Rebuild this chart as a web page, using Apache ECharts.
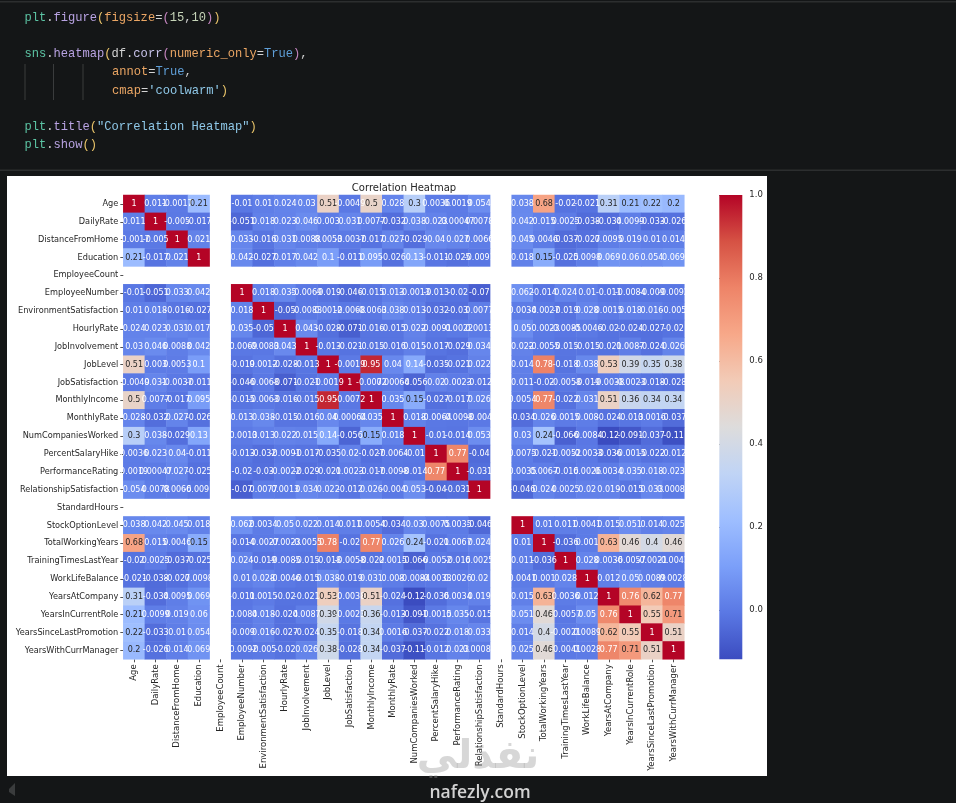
<!DOCTYPE html>
<html><head><meta charset="utf-8">
<style>html,body{margin:0;padding:0;background:#141617}#c{width:956px;height:803px}</style>
<script src="https://cdn.jsdelivr.net/npm/echarts@6/dist/echarts.min.js"></script>
</head><body><div id="c"></div>
<script>
const labels = ['Age','DailyRate','DistanceFromHome','Education','EmployeeCount','EmployeeNumber','EnvironmentSatisfaction','HourlyRate','JobInvolvement','JobLevel','JobSatisfaction','MonthlyIncome','MonthlyRate','NumCompaniesWorked','PercentSalaryHike','PerformanceRating','RelationshipSatisfaction','StandardHours','StockOptionLevel','TotalWorkingYears','TrainingTimesLastYear','WorkLifeBalance','YearsAtCompany','YearsInCurrentRole','YearsSinceLastPromotion','YearsWithCurrManager'];
const _ = null;
const rowAge = [1,0.011,-0.0017,0.21,_,-0.01,0.01,0.024,0.03,0.51,-0.0049,0.5,0.028,0.3,0.0036,0.0019,0.054,_,0.038,0.68,-0.02,-0.021,0.31,0.21,0.22,0.2];
const rowDailyRate = [0.011,1,-0.005,-0.017,_,-0.051,0.018,0.023,0.046,0.003,0.031,0.0077,-0.032,0.038,0.023,0.00047,0.0078,_,0.042,0.015,0.0025,-0.038,-0.034,0.0099,-0.033,-0.026];
const rowDistance = [-0.0017,-0.005,1,0.021,_,0.033,-0.016,0.031,0.0088,0.0053,-0.0037,-0.017,0.027,-0.029,0.04,0.027,0.0066,_,0.045,0.0046,-0.037,-0.027,0.0095,0.019,0.01,0.014];
const rowEducation = [0.21,-0.017,0.021,1,_,0.042,-0.027,0.017,0.042,0.1,-0.011,0.095,-0.026,0.13,-0.011,-0.025,-0.0091,_,0.018,0.15,-0.025,0.0098,0.069,0.06,0.054,0.069];
const rowEmpCount = [_,_,_,_,_,_,_,_,_,_,_,_,_,_,_,_,_,_,_,_,_,_,_,_,_,_];
const rowEmpNumber = [-0.01,-0.051,0.033,0.042,_,1,0.018,0.035,-0.0069,-0.019,-0.046,-0.015,0.013,-0.0013,-0.013,-0.02,-0.07,_,0.062,-0.014,0.024,0.01,-0.011,-0.0084,-0.009,-0.0092];
const rowEnvSat = [0.01,0.018,-0.016,-0.027,_,0.018,1,-0.05,-0.0083,0.0012,-0.0068,-0.0063,0.038,0.013,-0.032,-0.03,0.0077,_,0.0034,-0.0027,-0.019,0.028,0.0015,0.018,0.016,-0.005];
const rowHourly = [0.024,0.023,0.031,0.017,_,0.035,-0.05,1,0.043,-0.028,-0.071,-0.016,-0.015,0.022,-0.0091,-0.0022,0.0013,_,0.05,-0.0023,-0.0085,-0.0046,-0.02,-0.024,-0.027,-0.02];
const rowJobInv = [0.03,0.046,0.0088,0.042,_,-0.0069,-0.0083,0.043,1,-0.013,-0.021,-0.015,-0.016,0.015,-0.017,-0.029,0.034,_,0.022,-0.0055,-0.015,-0.015,-0.021,0.0087,-0.024,0.026];
const rowJobLevel = [0.51,0.003,0.0053,0.1,_,-0.019,0.0012,-0.028,-0.013,1,-0.0019,0.95,0.04,0.14,-0.035,-0.021,0.022,_,0.014,0.78,-0.018,0.038,0.53,0.39,0.35,0.38];
const rowJobSat = [-0.0049,0.031,-0.0037,-0.011,_,-0.046,-0.0068,-0.071,-0.021,-0.0019,1,-0.0072,0.00064,-0.056,0.02,0.0023,-0.012,_,0.011,-0.02,-0.0058,-0.019,-0.0038,-0.0023,-0.018,-0.028];
const rowIncome = [0.5,0.0077,-0.017,0.095,_,-0.015,-0.0063,-0.016,-0.015,0.95,-0.0072,1,0.035,0.15,-0.027,-0.017,0.026,_,0.0054,0.77,-0.022,0.031,0.51,0.36,0.34,0.34];
const rowMonthlyRate = [0.028,-0.032,0.027,-0.026,_,0.013,0.038,-0.015,-0.016,0.04,0.00064,0.035,1,0.018,-0.0064,-0.0098,-0.004,_,-0.034,0.026,0.0015,0.008,-0.024,-0.013,0.0016,-0.037];
const rowNumComp = [0.3,0.038,-0.029,0.13,_,-0.0013,0.013,0.022,0.015,0.14,-0.056,0.15,0.018,1,-0.01,-0.014,0.053,_,0.03,0.24,-0.066,-0.0084,-0.12,-0.091,-0.037,-0.11];
const rowHike = [0.0036,0.023,0.04,-0.011,_,-0.013,-0.032,-0.0091,-0.017,-0.035,0.02,-0.027,-0.0064,-0.01,1,0.77,-0.04,_,0.0075,-0.021,-0.0052,-0.0033,-0.036,-0.0015,-0.022,-0.012];
const rowPerf = [0.0019,0.00047,0.027,-0.025,_,-0.02,-0.03,-0.0022,-0.029,-0.021,0.0023,-0.017,-0.0098,-0.014,0.77,1,-0.031,_,0.0035,0.0067,-0.016,0.0026,0.0034,0.035,0.018,0.023];
const rowRelSat = [0.054,0.0078,0.0066,-0.0091,_,-0.07,0.0077,0.0013,0.034,0.022,-0.012,0.026,-0.004,0.053,-0.04,-0.031,1,_,-0.046,0.024,0.0025,0.02,0.019,-0.015,0.033,0.00087];
const rowStdHours = [_,_,_,_,_,_,_,_,_,_,_,_,_,_,_,_,_,_,_,_,_,_,_,_,_,_];
const rowStock = [0.038,0.042,0.045,0.018,_,0.062,0.0034,0.05,0.022,0.014,0.011,0.0054,-0.034,0.03,0.0075,0.0035,-0.046,_,1,0.01,0.011,0.0041,0.015,0.051,0.014,0.025];
const rowTotalYears = [0.68,0.015,0.0046,0.15,_,-0.014,-0.0027,-0.0023,-0.0055,0.78,-0.02,0.77,0.026,0.24,-0.021,0.0067,0.024,_,0.01,1,-0.036,0.001,0.63,0.46,0.4,0.46];
const rowTraining = [-0.02,0.0025,-0.037,-0.025,_,0.024,-0.019,-0.0085,-0.015,-0.018,-0.0058,-0.022,0.0015,-0.066,-0.0052,-0.016,0.0025,_,0.011,-0.036,1,0.028,0.0036,-0.0057,-0.0021,-0.0041];
const rowWLB = [-0.021,-0.038,-0.027,0.0098,_,0.01,0.028,-0.0046,-0.015,0.038,-0.019,0.031,0.008,-0.0084,-0.0033,0.0026,0.02,_,0.0041,0.001,0.028,1,0.012,0.05,0.0089,0.0028];
const rowYAC = [0.31,-0.034,0.0095,0.069,_,-0.011,0.0015,-0.02,-0.021,0.53,-0.0038,0.51,-0.024,-0.12,-0.036,0.0034,0.019,_,0.015,0.63,0.0036,0.012,1,0.76,0.62,0.77];
const rowYICR = [0.21,0.0099,0.019,0.06,_,-0.0084,0.018,-0.024,0.0087,0.39,-0.0023,0.36,-0.013,-0.091,-0.0015,0.035,-0.015,_,0.051,0.46,-0.0057,0.05,0.76,1,0.55,0.71];
const rowYSLP = [0.22,-0.033,0.01,0.054,_,-0.009,0.016,-0.027,-0.024,0.35,-0.018,0.34,0.0016,-0.037,-0.022,0.018,0.033,_,0.014,0.4,-0.0021,0.0089,0.62,0.55,1,0.51];
const rowYWCM = [0.2,-0.026,0.014,0.069,_,-0.0092,-0.005,-0.02,0.026,0.38,-0.028,0.34,-0.037,-0.11,-0.012,0.023,0.00087,_,0.025,0.46,-0.0041,0.0028,0.77,0.71,0.51,1];
const rows = [rowAge,rowDailyRate,rowDistance,rowEducation,rowEmpCount,rowEmpNumber,rowEnvSat,rowHourly,rowJobInv,rowJobLevel,rowJobSat,rowIncome,rowMonthlyRate,rowNumComp,rowHike,rowPerf,rowRelSat,rowStdHours,rowStock,rowTotalYears,rowTraining,rowWLB,rowYAC,rowYICR,rowYSLP,rowYWCM];
const colorbarTicks = [0,0.2,0.4,0.6,0.8,1];
const vMin = -0.119, vMax = 1;
const coolwarm = ['#3b4cc0','#5a78e4','#7b9ff9','#9ebeff','#c0d4f5','#dddcdc','#f2cbb7','#f7a889','#ee8468','#d65244','#b40426'];

const data = [];
rows.forEach((r,y)=>r.forEach((v,x)=>{
  if(v===null) return;
  const dark = v>=0.145 && v<0.74;
  data.push({value:[x,y,v],label:{color:dark?'#262626':'#ffffff'}});
}));

const C = {t:'#5cc4a4',w:'#d4d4d4',f:'#b9a3e3',y:'#e9c46a',p:'#c586c0',o:'#eba664',b:'#5f9fd8',s:'#8fc8e8',n:'#c6d4b8',c:'#c9c4ec'};
const codeLines = [
 {y:18, x:24.5, p:[['plt','t'],['.','w'],['figure','f'],['(','y'],['figsize','o'],['=','w'],['(','p'],['15','n'],[',','w'],['10','n'],[')','p'],[')','y']]},
 {y:54, x:24.5, p:[['sns','t'],['.','w'],['heatmap','f'],['(','y'],['df.','w'],['corr','c'],['(','p'],['numeric_only','o'],['=','w'],['True','b'],[')','p'],[',','w']]},
 {y:72, x:112, p:[['annot','o'],['=','w'],['True','b'],[',','w']]},
 {y:91, x:112, p:[['cmap','o'],['=','w'],["'coolwarm'",'s'],[')','y']]},
 {y:127, x:24.5, p:[['plt','t'],['.','w'],['title','f'],['(','y'],['"Correlation Heatmap"','s'],[')','y']]},
 {y:145, x:24.5, p:[['plt','t'],['.','w'],['show','f'],['()','y']]}
];
const rich = {};
Object.keys(C).forEach(k=>{rich[k]={fill:C[k],fontFamily:'"Liberation Mono"',fontSize:12.1};});
const barStops = coolwarm.map((color,i)=>({offset:1-i/(coolwarm.length-1),color}));
const graphic = [
 {type:'rect',z:-5,shape:{x:7,y:176,width:760,height:600},style:{fill:'#ffffff'},silent:true},
 {type:'rect',z:-5,shape:{x:0,y:1,width:956,height:1.5},style:{fill:'#2c2e2f'},silent:true},
 {type:'rect',z:-5,shape:{x:0,y:169.5,width:956,height:1.5},style:{fill:'#2c2e2f'},silent:true},
 {type:'rect',z:-5,shape:{x:24.5,y:64,width:1,height:36},style:{fill:'#3a3c3d'},silent:true},
 {type:'rect',z:-5,shape:{x:53,y:64,width:1,height:36},style:{fill:'#3a3c3d'},silent:true},
 {type:'rect',z:-5,shape:{x:82.5,y:64,width:1,height:36},style:{fill:'#3a3c3d'},silent:true},
 {type:'rect',z:1,shape:{x:719.3,y:195,width:23,height:464.3},silent:true,
  style:{fill:new echarts.graphic.LinearGradient(0,0,0,1,barStops)}},
 {type:'polygon',z:-5,shape:{points:[[9,789],[15,783],[15,796],[9,792]]},style:{fill:'#3a3c3d'},silent:true},
 {type:'text',z:100,style:{x:478,y:758,text:'نفذلي',align:'center',verticalAlign:'middle',fill:'rgba(150,150,150,0.38)',font:'bold 40px "DejaVu Sans"'},silent:true},
 {type:'text',z:100,style:{x:480,y:793,text:'nafezly.com',align:'center',verticalAlign:'middle',fill:'#d2d2d2',font:'600 17.5px "Open Sans"'},silent:true}
];
codeLines.forEach(l=>graphic.push({type:'text',z:10,silent:true,style:{x:l.x,y:l.y,verticalAlign:'middle',
  text:l.p.map(s=>'{'+s[1]+'|'+s[0]+'}').join(''),rich}}));

const chart = echarts.init(document.getElementById('c'),null,{renderer:'canvas'});
chart.setOption({
 animation:false,
 backgroundColor:'#141617',
 graphic,
 title:{text:'Correlation Heatmap',left:399,textAlign:'center',top:178,textStyle:{fontFamily:'"DejaVu Sans"',fontSize:10,fontWeight:'normal',color:'#262626'}},
 grid:[
  {left:123.3,top:195,width:561,height:464.3,containLabel:false},
  {left:719.3,top:195,width:23,height:464.3,containLabel:false}
 ],
 xAxis:[
  {type:'category',gridIndex:0,data:labels,position:'bottom',splitArea:{show:false},
   axisLine:{show:false},axisTick:{show:true,alignWithLabel:true,length:3,lineStyle:{color:'#262626',width:0.8}},
   axisLabel:{interval:0,rotate:90,fontFamily:'"DejaVu Sans"',fontSize:8.5,color:'#262626',margin:5}},
  {type:'value',gridIndex:1,show:false,min:0,max:1}
 ],
 yAxis:[
  {type:'category',gridIndex:0,data:labels,inverse:true,splitArea:{show:false},
   axisLine:{show:false},axisTick:{show:true,alignWithLabel:true,length:3,lineStyle:{color:'#262626',width:0.8}},
   axisLabel:{interval:0,fontFamily:'"DejaVu Sans"',fontSize:8.2,color:'#262626',margin:5}},
  {type:'value',gridIndex:1,position:'right',min:vMin,max:vMax,splitLine:{show:false},
   axisLine:{show:false},
   axisTick:{show:true,length:3,customValues:colorbarTicks,lineStyle:{color:'#262626',width:0.8}},
   axisLabel:{customValues:colorbarTicks,formatter:v=>v.toFixed(1),padding:[4,0,0,0],fontFamily:'"DejaVu Sans"',fontSize:8.5,color:'#262626',margin:7}}
 ],
 visualMap:{type:'continuous',show:false,seriesIndex:0,min:vMin,max:vMax,inRange:{color:coolwarm}},
 series:[{
  type:'heatmap',xAxisIndex:0,yAxisIndex:0,data,progressive:0,silent:true,
  label:{show:true,fontFamily:'"DejaVu Sans"',fontSize:8,formatter:p=>String(p.value[2])},
  itemStyle:{borderWidth:0}
 }]
});
</script></body></html>
